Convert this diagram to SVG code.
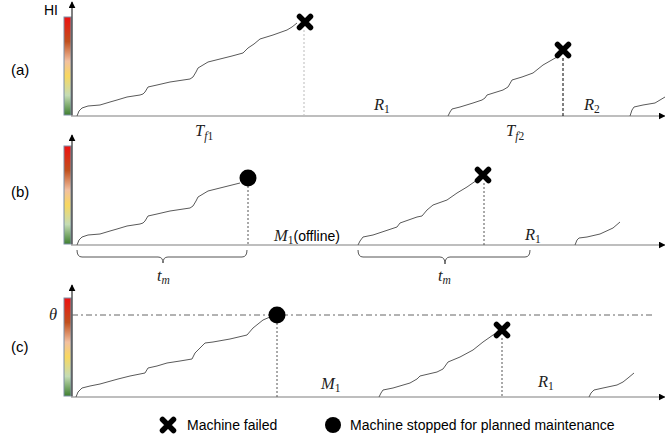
<svg xmlns="http://www.w3.org/2000/svg" width="665" height="443" viewBox="0 0 665 443">
<defs>
<linearGradient id="hi" x1="0" y1="0" x2="0" y2="1">
<stop offset="0" stop-color="#ee1111"/>
<stop offset="0.25" stop-color="#c0501e"/>
<stop offset="0.45" stop-color="#f2c0a0"/>
<stop offset="0.6" stop-color="#f8d860"/>
<stop offset="0.8" stop-color="#c4dcb4"/>
<stop offset="1" stop-color="#3f7f30"/>
</linearGradient>
<marker id="arr" viewBox="0 0 10 10" refX="9" refY="5" markerWidth="7" markerHeight="7" markerUnits="userSpaceOnUse" orient="auto">
<path d="M0,0 L10,5 L0,10 z" fill="#000"/>
</marker>
<g id="xm"><path d="M-5.5,-5.5 L5.5,5.5 M5.5,-5.5 L-5.5,5.5" stroke="#000" stroke-width="5.5" stroke-linecap="round" fill="none"/></g>
</defs>
<style>
.bar{fill:url(#hi);stroke:#7d8fa6;stroke-width:1}
.vax{stroke:#000;stroke-width:1;fill:none}
.hax{stroke:#a8a8a8;stroke-width:1.4;fill:none}
.crv{stroke:#5a5a5a;stroke-width:1;fill:none;stroke-linejoin:round}
.dot{stroke:#555;stroke-width:1;stroke-dasharray:2 2;fill:none}
.dotl{stroke:#bbb;stroke-width:1;stroke-dasharray:2 2;fill:none}
.dsh{stroke:#000;stroke-width:1;stroke-dasharray:3 2;fill:none}
.brace{stroke:#555;stroke-width:1;fill:none}
.lab{font-family:"Liberation Sans",Arial,sans-serif;font-size:15px;fill:#000}
.leg{font-family:"Liberation Sans",Arial,sans-serif;font-size:14px;fill:#000}
.m{font-family:"Liberation Serif","Times New Roman",serif;font-style:italic;font-size:16.5px;fill:#222}
.s{font-size:11.5px}
.u{font-style:normal}
</style>

<g id="row-a">
<rect class="bar" x="64" y="17" width="7" height="98"/>
<text class="lab" x="44" y="15" style="font-size:14px">HI</text>
<text class="lab" x="11" y="75">(a)</text>
</g>
<g id="row-b">
<rect class="bar" x="64" y="146" width="7" height="98"/>
<text class="lab" x="11" y="197">(b)</text>
</g>
<g id="row-c">
<rect class="bar" x="64" y="298" width="7" height="98"/>
<text class="lab" x="11" y="352">(c)</text>
<text class="m" x="49" y="320">θ</text>
</g>

<g id="connectors">
<line class="vax" x1="72" y1="116" x2="72" y2="2" marker-end="url(#arr)"/>
<line class="vax" x1="72" y1="245" x2="72" y2="135" marker-end="url(#arr)"/>
<line class="vax" x1="72" y1="397" x2="72" y2="285" marker-end="url(#arr)"/>
<line class="hax" x1="71" y1="116" x2="665" y2="116" marker-end="url(#arr)"/>
<line class="hax" x1="71" y1="245" x2="665" y2="245" marker-end="url(#arr)"/>
<line class="hax" x1="71" y1="397" x2="665" y2="397" marker-end="url(#arr)"/>
<line x1="72" y1="315" x2="652" y2="315" stroke="#666" stroke-width="1" stroke-dasharray="6 3 2 3"/>
<line class="dotl" x1="304" y1="30" x2="304" y2="116"/>
<line class="dsh" x1="563" y1="58" x2="563" y2="116"/>
<line class="dot" x1="248" y1="186" x2="248" y2="245"/>
<line class="dot" x1="484" y1="183" x2="484" y2="245"/>
<line class="dot" x1="277" y1="323" x2="277" y2="397"/>
<line class="dot" x1="502" y1="338" x2="502" y2="397"/>
<path class="brace" d="M77,250 Q77,257 82,257 L158,257 Q163,257 163,263 Q163,257 168,257 L242,257 Q247,257 247,250"/>
<path class="brace" d="M358,250 Q358,257 363,257 L440,257 Q445,257 445,264 Q445,257 450,257 L525,257 Q530,257 530,250"/>
</g>

<g id="curves">
<polyline class="crv" points="77,116 79,111 82,108 88,106 100,105 110,102 117,100 127,97 140,95 143,94 145,92 148,87 157,85 170,82 190,79 193,77 196,72 198,68 208,62 220,59 232,56 243,53 248,48 254,44 260,39 273,35 287,30 292,27 297,23"/>
<polyline class="crv" points="448,116 450,112 452,109 460,107 473,103 482,100 485,98 487,95 503,90 508,87 512,80 522,77 533,73 543,65 550,61 557,57"/>
<polyline class="crv" points="630,116 632,110 634,107 643,105 655,103 665,97"/>
<polyline class="crv" points="77,245 79,240 82,237 88,235 100,234 110,231 117,229 127,226 140,224 143,223 145,221 148,216 157,214 170,211 190,208 193,206 196,201 198,197 208,191 220,188 232,185 240,183"/>
<polyline class="crv" points="358,245 360,241 363,237 373,235 388,230 397,227 400,223 417,217 422,216 427,210 433,205 447,200 457,193 467,187 477,180"/>
<polyline class="crv" points="575,245 577,240 579,238 587,237 600,234 613,228 620,222"/>
<polyline class="crv" points="76,397 78,392 82,388 90,386 100,384 118,379 130,376 145,373 148,368 157,366 167,363 180,361 192,359 195,353 200,348 205,343 213,342 230,339 247,335 253,328 263,320 270,317"/>
<polyline class="crv" points="379,397 381,393 383,390 393,388 410,383 417,379 420,376 437,372 443,369 448,362 460,357 473,350 483,342 493,335 497,333"/>
<polyline class="crv" points="589,397 591,393 594,390 603,388 617,385 623,382 628,378 634,373"/>
</g>

<g id="markers">
<use href="#xm" x="305" y="22"/>
<use href="#xm" x="563" y="50"/>
<circle cx="248" cy="178" r="8.5" fill="#000"/>
<use href="#xm" x="483" y="175"/>
<circle cx="277" cy="315" r="8.5" fill="#000"/>
<use href="#xm" x="502" y="330"/>
</g>

<g id="labels">
<text class="m" x="195" y="136">T<tspan class="s" dy="4">f</tspan><tspan class="s u">1</tspan></text>
<text class="m" x="506" y="136">T<tspan class="s" dy="4">f</tspan><tspan class="s u">2</tspan></text>
<text class="m" x="374" y="110">R<tspan class="s u" dy="3">1</tspan></text>
<text class="m" x="584" y="110">R<tspan class="s u" dy="3">2</tspan></text>
<text class="m" x="274" y="241">M<tspan class="s u" dy="3">1</tspan><tspan class="lab u" dy="-3" style="font-size:14px">(offline)</tspan></text>
<text class="m" x="525" y="240">R<tspan class="s u" dy="3">1</tspan></text>
<text class="m" x="157" y="281">t<tspan class="s" dy="3">m</tspan></text>
<text class="m" x="438" y="281">t<tspan class="s" dy="3">m</tspan></text>
<text class="m" x="321" y="389">M<tspan class="s u" dy="3">1</tspan></text>
<text class="m" x="538" y="387">R<tspan class="s u" dy="3">1</tspan></text>
</g>

<g id="legend">
<use href="#xm" x="168" y="425"/>
<text class="leg" x="187" y="430">Machine failed</text>
<circle cx="333" cy="425" r="8" fill="#000"/>
<text class="leg" x="350" y="430">Machine stopped for planned maintenance</text>
</g>
</svg>
